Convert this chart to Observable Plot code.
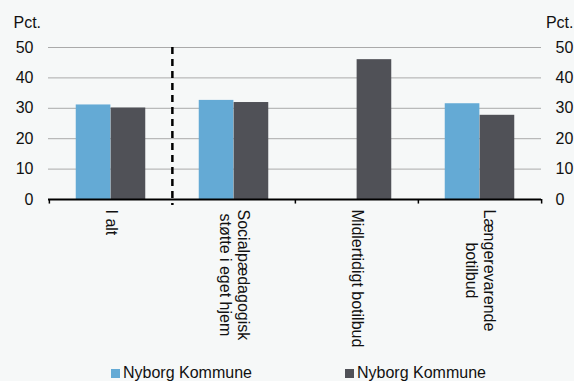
<!DOCTYPE html>
<html>
<head>
<meta charset="utf-8">
<script src="https://cdn.jsdelivr.net/npm/d3@7"></script>
<script src="https://cdn.jsdelivr.net/npm/@observablehq/plot@0.6"></script>
<style>
  html, body { margin: 0; padding: 0; background: #f6f8f8; }
  body { width: 574px; height: 381px; overflow: hidden; font-family: "Liberation Sans", Arial, sans-serif; }
  #legend { position: relative; height: 31px; font-size: 16px; color: #111; }
  .item { position: absolute; top: 15px; line-height: 16px; white-space: nowrap; }
  .sw { display: inline-block; width: 9px; height: 9px; margin-right: 3px; vertical-align: 0px; }
</style>
</head>
<body>
<div id="chart"></div>
<div id="legend"></div>
<script>
const categories = ["I alt", "Socialpædagogisk\nstøtte i eget hjem", "Midlertidigt botilbud", "Længerevarende\nbotilbud"];
const seriesNames = ["Nyborg Kommune", "Nyborg Kommune"];
const seriesA = [31.1, 32.6, null, 31.5];
const seriesB = [30.1, 31.9, 46.0, 27.7];
const yTicks = [0, 10, 20, 30, 40, 50];
const colors = ["#64aad5", "#505157"];

const W = 574, H = 350, mL = 48, mR = 33, mT = 47, mB = 151;
const FS = 16, LH = 18.3;
const FONT = "Liberation Sans, Arial, sans-serif";
const bw = (W - mL - mR) / categories.length;
const barW = bw * 0.283;

const dataA = categories.map((c, i) => ({cat: c, v: seriesA[i]})).filter(d => d.v != null);
const dataB = categories.map((c, i) => ({cat: c, v: seriesB[i]})).filter(d => d.v != null);

// measure label lines so multi-line labels are top-aligned with centered lines
const ctx = document.createElement("canvas").getContext("2d");
ctx.font = `${FS}px "Liberation Sans", Arial, sans-serif`;
const labelMarks = categories.flatMap(cat => {
  const lines = cat.split("\n");
  const maxW = Math.max(...lines.map(l => ctx.measureText(l).width));
  const n = lines.length;
  return lines.map((line, j) => Plot.text([line], {
    x: () => cat, text: d => d, frameAnchor: "bottom", rotate: 90,
    textAnchor: "middle", lineAnchor: "middle",
    dx: ((n - 1) / 2 - j) * LH, dy: 10 + maxW / 2, fill: "#111"
  }));
});

const plot = Plot.plot({
  width: W, height: H,
  marginLeft: mL, marginRight: mR, marginTop: mT, marginBottom: mB,
  style: {background: "#f6f8f8", fontFamily: FONT, fontSize: FS + "px", color: "#111", overflow: "visible"},
  x: {type: "band", domain: categories, padding: 0, axis: null},
  y: {domain: [0, 50], axis: null, label: null},
  marks: [
    Plot.gridY(yTicks.slice(1), {stroke: "#aaaaaa", strokeOpacity: 1, strokeWidth: 1}),
    Plot.barY(dataA, {x: "cat", y: "v", fill: colors[0], insetLeft: bw / 2 - barW, insetRight: bw / 2}),
    Plot.barY(dataB, {x: "cat", y: "v", fill: colors[1], insetLeft: bw / 2, insetRight: bw / 2 - barW}),
    Plot.ruleY([0], {stroke: "black", strokeWidth: 2}),
    Plot.ruleX([categories[0], categories[2], categories[3]], {x: d => d, dx: -bw / 2, y1: 0, y2: -1.5, stroke: "black", strokeWidth: 1.5}),
    Plot.ruleX([categories[3]], {x: d => d, dx: bw / 2, y1: 0, y2: -1.5, stroke: "black", strokeWidth: 1.5}),
    Plot.ruleX([categories[1]], {x: d => d, dx: -bw / 2, y1: 50, y2: -2, stroke: "black", strokeWidth: 2.5, strokeDasharray: "7,5"}),
    Plot.axisY(yTicks, {anchor: "left", tickSize: 0, tickPadding: 15, label: null, fill: "#111"}),
    Plot.axisY(yTicks, {anchor: "right", tickSize: 0, tickPadding: 14, label: null, fill: "#111"}),
    ...labelMarks,
    Plot.text(["Pct."], {frameAnchor: "top-left", text: d => d, textAnchor: "start", lineAnchor: "middle", dx: -35, dy: -25, fill: "#111"}),
    Plot.text(["Pct."], {frameAnchor: "top-right", text: d => d, textAnchor: "end", lineAnchor: "middle", dx: 32, dy: -25, fill: "#111"})
  ]
});
document.getElementById("chart").appendChild(plot);

const legend = document.getElementById("legend");
const lx = [111, 345];
seriesNames.forEach((n, i) => {
  const it = document.createElement("div");
  it.className = "item";
  it.style.left = lx[i] + "px";
  it.innerHTML = `<span class="sw" style="background:${colors[i]}"></span>${n}`;
  legend.appendChild(it);
});
</script>
</body>
</html>
